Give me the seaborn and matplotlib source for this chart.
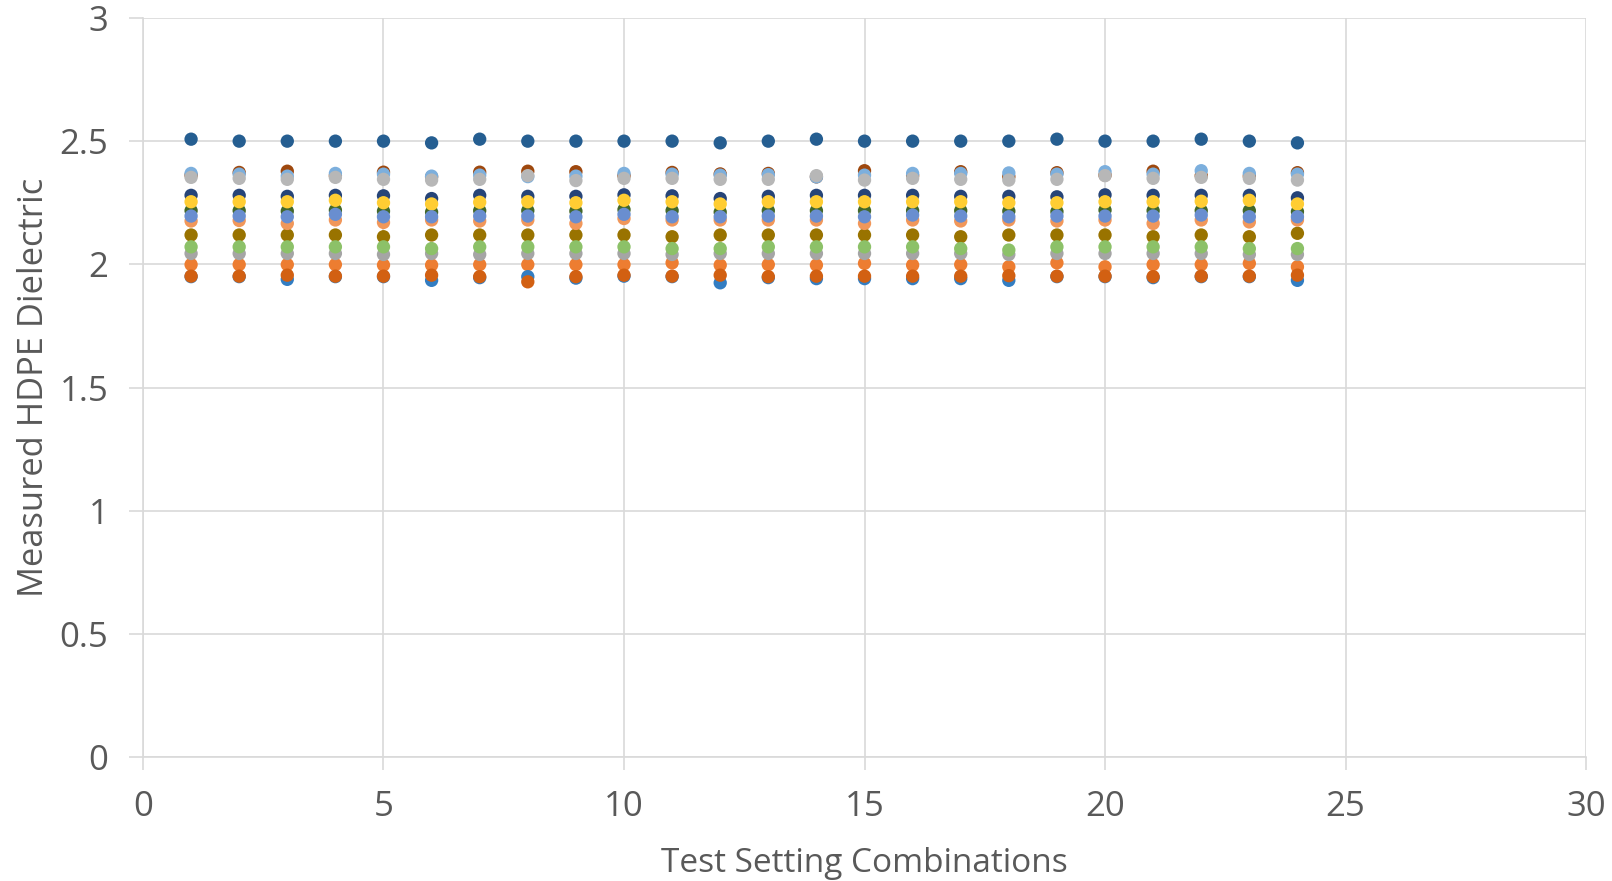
import matplotlib
matplotlib.use("Agg")
import matplotlib.pyplot as plt
import numpy as np
import pandas as pd
import seaborn as sns

# Test setting combination index
combos = list(range(1, 25))

# Measured dielectric per sensor/series, one value per combination
s_orange = [1.999, 1.999, 1.999, 1.999, 1.997, 1.997, 1.999, 1.999, 1.999, 1.999, 2.006, 1.997,
            1.999, 1.997, 2.004, 1.997, 1.999, 1.990, 2.006, 1.990, 1.999, 1.999, 2.004, 1.990]
s_gray = [2.044, 2.044, 2.044, 2.044, 2.040, 2.044, 2.040, 2.044, 2.044, 2.044, 2.040, 2.044,
          2.044, 2.044, 2.044, 2.044, 2.044, 2.040, 2.044, 2.044, 2.044, 2.044, 2.040, 2.040]
s_dark_blue = [2.508, 2.500, 2.500, 2.500, 2.500, 2.493, 2.508, 2.500, 2.500, 2.500, 2.500, 2.493,
               2.500, 2.508, 2.500, 2.500, 2.500, 2.500, 2.508, 2.500, 2.500, 2.508, 2.500, 2.493]
s_brown = [2.362, 2.373, 2.378, 2.360, 2.374, 2.355, 2.374, 2.378, 2.376, 2.360, 2.373, 2.367,
           2.369, 2.355, 2.380, 2.360, 2.376, 2.356, 2.372, 2.362, 2.378, 2.360, 2.358, 2.372]
s_olive = [2.119, 2.119, 2.119, 2.119, 2.112, 2.119, 2.119, 2.119, 2.119, 2.119, 2.112, 2.119,
           2.119, 2.119, 2.119, 2.119, 2.112, 2.119, 2.119, 2.119, 2.112, 2.119, 2.112, 2.126]
s_navy = [2.280, 2.280, 2.276, 2.280, 2.278, 2.267, 2.280, 2.276, 2.276, 2.282, 2.278, 2.267,
          2.276, 2.280, 2.280, 2.280, 2.276, 2.276, 2.274, 2.282, 2.280, 2.280, 2.280, 2.270]
s_dark_green = [2.218, 2.218, 2.216, 2.220, 2.216, 2.212, 2.218, 2.218, 2.216, 2.222, 2.218, 2.212,
                2.218, 2.218, 2.218, 2.218, 2.218, 2.216, 2.214, 2.220, 2.218, 2.218, 2.218, 2.214]
s_light_blue = [2.369, 2.366, 2.358, 2.369, 2.366, 2.358, 2.362, 2.356, 2.358, 2.369, 2.366, 2.362,
                2.364, 2.355, 2.362, 2.369, 2.369, 2.371, 2.366, 2.376, 2.366, 2.380, 2.369, 2.366]
s_light_orange = [2.176, 2.178, 2.166, 2.180, 2.170, 2.180, 2.176, 2.180, 2.166, 2.186, 2.180, 2.180,
                  2.180, 2.180, 2.166, 2.180, 2.176, 2.180, 2.176, 2.180, 2.166, 2.180, 2.172, 2.180]
s_light_gray = [2.353, 2.349, 2.345, 2.353, 2.345, 2.342, 2.345, 2.360, 2.340, 2.349, 2.349, 2.345,
                2.345, 2.360, 2.342, 2.349, 2.345, 2.342, 2.345, 2.360, 2.349, 2.353, 2.349, 2.342]
s_gold = [2.254, 2.254, 2.254, 2.260, 2.250, 2.245, 2.252, 2.254, 2.250, 2.260, 2.254, 2.245,
          2.254, 2.254, 2.254, 2.254, 2.254, 2.250, 2.250, 2.254, 2.254, 2.256, 2.260, 2.245]
s_med_blue = [2.196, 2.196, 2.193, 2.203, 2.193, 2.193, 2.196, 2.196, 2.193, 2.203, 2.193, 2.193,
              2.196, 2.196, 2.193, 2.200, 2.196, 2.193, 2.196, 2.196, 2.196, 2.200, 2.193, 2.193]
s_light_green = [2.071, 2.071, 2.071, 2.071, 2.071, 2.064, 2.071, 2.071, 2.071, 2.071, 2.064, 2.064,
                 2.071, 2.071, 2.071, 2.071, 2.064, 2.058, 2.071, 2.071, 2.071, 2.071, 2.064, 2.064]
s_blue = [1.950, 1.950, 1.939, 1.950, 1.950, 1.935, 1.946, 1.950, 1.944, 1.952, 1.950, 1.925,
          1.946, 1.942, 1.942, 1.942, 1.942, 1.935, 1.950, 1.950, 1.946, 1.950, 1.950, 1.935]
s_dark_orange = [1.952, 1.952, 1.956, 1.952, 1.952, 1.956, 1.950, 1.929, 1.950, 1.956, 1.952, 1.956,
                 1.950, 1.952, 1.952, 1.952, 1.952, 1.954, 1.952, 1.952, 1.950, 1.952, 1.952, 1.956]

# Series in drawing order (later series sit on top)
series = [
    ("Series 2", s_orange, "#ED7D31"),
    ("Series 3", s_gray, "#A5A5A5"),
    ("Series 7", s_dark_blue, "#255E91"),
    ("Series 8", s_brown, "#9E480E"),
    ("Series 10", s_olive, "#997300"),
    ("Series 11", s_navy, "#264478"),
    ("Series 12", s_dark_green, "#43682B"),
    ("Series 13", s_light_blue, "#7CAFDD"),
    ("Series 14", s_light_orange, "#F1975A"),
    ("Series 15", s_light_gray, "#B7B7B7"),
    ("Series 16", s_gold, "#FFCD33"),
    ("Series 17", s_med_blue, "#698ED0"),
    ("Series 18", s_light_green, "#8CC168"),
    ("Series 19", s_blue, "#327DC2"),
    ("Series 20", s_dark_orange, "#D26012"),
]

frames = [pd.DataFrame({"combo": combos, "dielectric": vals, "series": name})
          for name, vals, _ in series]
df = pd.concat(frames, ignore_index=True)
palette = {name: color for name, _, color in series}

sns.set_theme(style="whitegrid")
plt.rcParams["font.family"] = ["Open Sans", "DejaVu Sans"]

fig = plt.figure(figsize=(16.12, 8.81), dpi=100)
ax = fig.add_axes([0.0887, 0.1407, 0.8952, 0.8389])

sns.scatterplot(data=df, x="combo", y="dielectric", hue="series", palette=palette,
                s=92, linewidth=0, legend=False, ax=ax, zorder=3)

grid_color = "#D9D9D9"
text_color = "#595959"

ax.set_xlim(0, 30)
ax.set_ylim(0, 3)
ax.set_xticks(np.arange(0, 31, 5))
ax.set_yticks(np.arange(0, 3.01, 0.5))
ax.xaxis.set_major_formatter(matplotlib.ticker.FuncFormatter(lambda v, p: f"{v:g}"))
ax.yaxis.set_major_formatter(matplotlib.ticker.FuncFormatter(lambda v, p: f"{v:g}"))

ax.grid(True, color=grid_color, linewidth=1.2)
ax.set_axisbelow(True)
for side in ["top", "right"]:
    ax.spines[side].set_visible(False)
for side in ["left", "bottom"]:
    ax.spines[side].set_color(grid_color)
    ax.spines[side].set_linewidth(1.2)

ax.tick_params(axis="x", which="major", bottom=True, length=9, width=1.2, color=grid_color,
               labelsize=25, labelcolor=text_color, pad=15)
ax.tick_params(axis="y", which="major", left=True, length=10, width=1.2, color=grid_color,
               labelsize=25, labelcolor=text_color, pad=15)

ax.set_xlabel("Test Setting Combinations", fontsize=24, color=text_color, labelpad=16)
ax.set_ylabel("Measured HDPE Dielectric", fontsize=24.8, color=text_color, labelpad=6)

fig.savefig("out.png", dpi=100, facecolor="white")
